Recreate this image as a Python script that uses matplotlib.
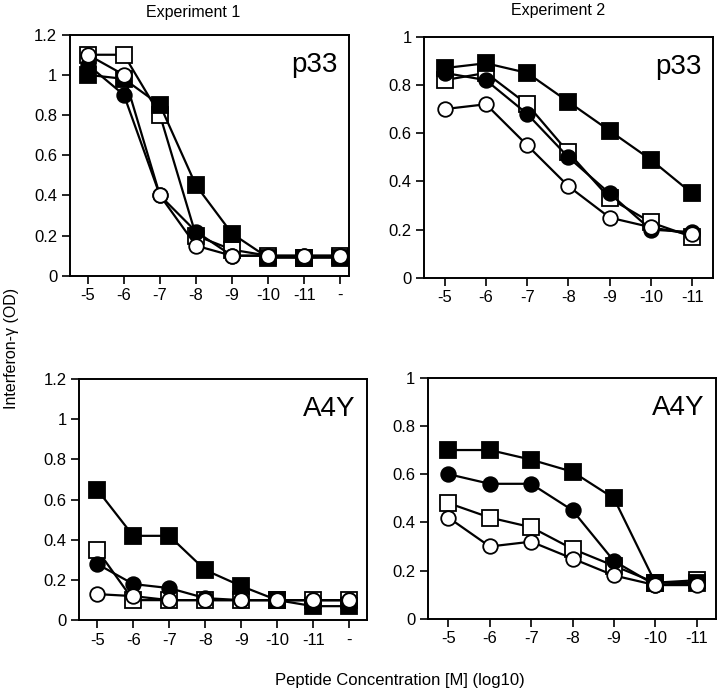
import numpy as np
import matplotlib
matplotlib.use("Agg")
import matplotlib.pyplot as plt

plt.rcParams['font.family'] = ['Liberation Sans', 'DejaVu Sans']

# Experiment 1: 8 concentrations (last = no peptide)
labels_exp1 = ['-5', '-6', '-7', '-8', '-9', '-10', '-11', '-']
# Experiment 2: 7 concentrations
labels_exp2 = ['-5', '-6', '-7', '-8', '-9', '-10', '-11']

# p33, experiment 1
p33_e1_fsq = [1.0, 0.98, 0.85, 0.45, 0.21, 0.09, 0.09, 0.09]
p33_e1_fci = [1.05, 0.9, 0.4, 0.22, 0.1, 0.1, 0.1, 0.1]
p33_e1_osq = [1.1, 1.1, 0.8, 0.2, 0.13, 0.1, 0.09, 0.1]
p33_e1_oci = [1.1, 1.0, 0.4, 0.15, 0.1, 0.1, 0.1, 0.1]

# p33, experiment 2
p33_e2_fsq = [0.87, 0.89, 0.85, 0.73, 0.61, 0.49, 0.35]
p33_e2_fci = [0.85, 0.82, 0.68, 0.50, 0.35, 0.20, 0.19]
p33_e2_osq = [0.82, 0.85, 0.72, 0.52, 0.33, 0.23, 0.17]
p33_e2_oci = [0.70, 0.72, 0.55, 0.38, 0.25, 0.21, 0.18]

# A4Y, experiment 1
a4y_e1_fsq = [0.65, 0.42, 0.42, 0.25, 0.17, 0.1, 0.07, 0.07]
a4y_e1_fci = [0.28, 0.18, 0.16, 0.11, 0.1, 0.1, 0.1, 0.1]
a4y_e1_osq = [0.35, 0.1, 0.1, 0.1, 0.1, 0.1, 0.1, 0.1]
a4y_e1_oci = [0.13, 0.12, 0.1, 0.1, 0.1, 0.1, 0.1, 0.1]

# A4Y, experiment 2
a4y_e2_fsq = [0.70, 0.70, 0.66, 0.61, 0.50, 0.15, 0.15]
a4y_e2_fci = [0.60, 0.56, 0.56, 0.45, 0.24, 0.14, 0.15]
a4y_e2_osq = [0.48, 0.42, 0.38, 0.29, 0.22, 0.15, 0.16]
a4y_e2_oci = [0.42, 0.30, 0.32, 0.25, 0.18, 0.14, 0.14]

fig = plt.figure(figsize=(7.2, 6.93), dpi=100)

panels = [
    # rect, labels, series, ymax, yticks, name, xlim
    ([0.097, 0.602, 0.388, 0.348], labels_exp1,
     (p33_e1_osq, p33_e1_fsq, p33_e1_fci, p33_e1_oci), 1.2,
     [0, 0.2, 0.4, 0.6, 0.8, 1, 1.2], 'p33', (-0.5, 7.25)),
    ([0.589, 0.599, 0.401, 0.348], labels_exp2,
     (p33_e2_osq, p33_e2_fsq, p33_e2_fci, p33_e2_oci), 1.0,
     [0, 0.2, 0.4, 0.6, 0.8, 1], 'p33', (-0.5, 6.5)),
    ([0.110, 0.105, 0.400, 0.348], labels_exp1,
     (a4y_e1_osq, a4y_e1_fsq, a4y_e1_fci, a4y_e1_oci), 1.2,
     [0, 0.2, 0.4, 0.6, 0.8, 1, 1.2], 'A4Y', (-0.5, 7.5)),
    ([0.594, 0.107, 0.400, 0.348], labels_exp2,
     (a4y_e2_osq, a4y_e2_fsq, a4y_e2_fci, a4y_e2_oci), 1.0,
     [0, 0.2, 0.4, 0.6, 0.8, 1], 'A4Y', (-0.5, 6.46)),
]

styles = [('s', 'white'), ('s', 'black'), ('o', 'black'), ('o', 'white')]

for rect, labels, series, ymax, yticks, name, xlim in panels:
    ax = fig.add_axes(rect)
    x = np.arange(len(labels))
    for vals, (mk, fc) in zip(series, styles):
        ax.plot(x, vals, '-', color='black', lw=1.6, marker=mk,
                markersize=11 if mk == 's' else 10.5,
                markerfacecolor=fc, markeredgecolor='black',
                markeredgewidth=1.3, clip_on=False)
    ax.set_xlim(*xlim)
    ax.set_ylim(0, ymax)
    ax.set_xticks(x)
    ax.set_xticklabels(labels)
    ax.set_yticks(yticks)
    ax.set_yticklabels([('%g' % t) for t in yticks])
    ax.tick_params(direction='out', length=6, width=1.2, labelsize=12, pad=3)
    for sp in ax.spines.values():
        sp.set_linewidth(1.4)
    ax.text(0.96, 0.93, name, transform=ax.transAxes, ha='right', va='top',
            fontsize=20)

fig.text(193 / 720, 1 - 12 / 693, 'Experiment 1', ha='center', va='center', fontsize=11.5)
fig.text(558 / 720, 1 - 10 / 693, 'Experiment 2', ha='center', va='center', fontsize=11.5)
fig.text(12 / 720, 1 - 348 / 693, 'Interferon-γ (OD)', rotation=90,
         ha='center', va='center', fontsize=11.5)
fig.text(400 / 720, 1 - 680 / 693, 'Peptide Concentration [M] (log10)',
         ha='center', va='center', fontsize=12)

fig.savefig('out.png', dpi=100)
